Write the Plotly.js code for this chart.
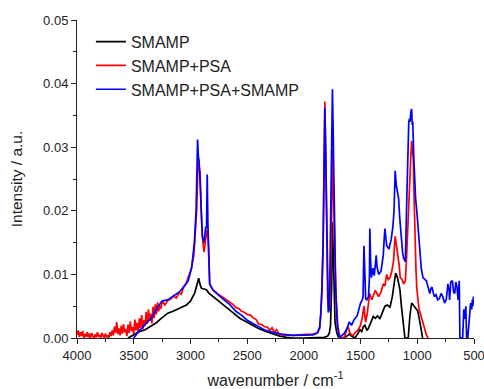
<!DOCTYPE html>
<html>
<head>
<meta charset="utf-8">
<script src="https://cdn.plot.ly/plotly-3.0.1.min.js"></script>
<style>html,body{margin:0;padding:0;background:#fff;}#chart{width:484px;height:389px;}</style>
</head>
<body>
<div id="chart"></div>
<script>
// SMAMP (black)
const smampX = [3550,3500,3450,3400,3350,3300,3270,3230,3200,3153,3100,3035,3000,2980,2962,2945,2927,2915,2903,2880,2859,2840,2800,2750,2682,2620,2565,2500,2447,2400,2330,2270,2212,2150,2100,2000,1900,1820,1790,1775,1765,1755,1748,1741,1735,1725,1712,1700,1683,1650,1620,1600,1580,1550,1520,1506,1490,1475,1462,1445,1432,1410,1388,1370,1350,1330,1310,1285,1265,1241,1220,1205,1191,1175,1153,1140,1124,1109,1095,1080,1065,1050,1035,1012,995,977,965,953];
const smampY = [0.0,0.0005,0.001,0.0013,0.0018,0.0024,0.0029,0.0035,0.0039,0.0042,0.0046,0.0052,0.0058,0.0064,0.0071,0.0082,0.0094,0.0084,0.0078,0.0077,0.0076,0.0071,0.0065,0.0057,0.0047,0.0039,0.0031,0.0025,0.0019,0.0015,0.001,0.0006,0.0003,0.0001,0.0,0.0,0.0,0.0001,0.0003,0.0008,0.002,0.008,0.0182,0.012,0.006,0.0025,0.001,0.0003,0.0,0.0,0.0003,0.0006,0.0003,0.0,0.0008,0.0013,0.001,0.0018,0.002,0.0012,0.0015,0.0026,0.0034,0.0031,0.0035,0.003,0.0038,0.005,0.0052,0.0048,0.0065,0.0085,0.0102,0.0095,0.0076,0.005,0.0026,0.0,0.0,0.0,0.0035,0.0055,0.0052,0.0045,0.0042,0.0025,0.001,0.0];

// SMAMP+PSA (red)
const psaX = [4000,3990,3980,3970,3960,3950,3940,3930,3920,3910,3900,3890,3880,3870,3860,3850,3840,3830,3820,3810,3800,3790,3780,3770,3760,3750,3740,3730,3720,3710,3700,3690,3680,3670,3660,3650,3640,3630,3620,3610,3600,3590,3580,3570,3560,3550,3540,3530,3520,3510,3500,3490,3480,3470,3460,3450,3440,3430,3420,3410,3400,3390,3380,3370,3360,3350,3340,3330,3320,3310,3300,3290,3280,3270,3260,3250,3225,3200,3175,3150,3125,3100,3080,3060,3040,3020,2990,2970,2955,2945,2937,2930,2922,2915,2905,2895,2880,2870,2862,2855,2845,2838,2830,2815,2800,2780,2750,2720,2700,2670,2650,2620,2600,2570,2550,2520,2500,2470,2450,2420,2400,2370,2350,2320,2300,2280,2260,2240,2220,2200,2150,2100,2050,2000,1950,1920,1880,1860,1850,1840,1830,1822,1815,1808,1800,1790,1780,1772,1765,1758,1748,1740,1735,1725,1715,1700,1690,1680,1660,1640,1620,1610,1595,1580,1565,1550,1525,1500,1485,1470,1462,1455,1440,1430,1420,1410,1400,1385,1370,1355,1340,1320,1300,1285,1270,1255,1240,1225,1210,1195,1185,1175,1160,1150,1135,1120,1105,1095,1088,1080,1072,1065,1057,1050,1042,1035,1028,1020,1012,1005,995,985,972,960,950,940,930,920,910,905];
const psaY = [0.0005,0.0012,0.0002,0.0009,0.0003,0.0011,0.0,0.0006,0.0002,0.0009,0.0001,0.0007,0.0,0.0008,0.0003,0.0,0.0006,0.0001,0.0009,0.0002,0.0005,0.0,0.0008,0.0002,0.0,0.0007,0.0001,0.0004,0.0,0.0009,0.0003,0.0012,0.0004,0.0018,0.0008,0.0025,0.0006,0.0015,0.0004,0.0019,0.0007,0.0022,0.0009,0.0014,0.0003,0.0021,0.0008,0.0026,0.0011,0.0017,0.0006,0.0029,0.0012,0.0024,0.0009,0.0031,0.0016,0.0036,0.0014,0.0028,0.0019,0.0041,0.0022,0.0045,0.0027,0.0038,0.0023,0.0049,0.0031,0.0053,0.0037,0.0056,0.0042,0.0051,0.0046,0.0058,0.0052,0.0059,0.0061,0.0066,0.0063,0.0071,0.0069,0.0081,0.0085,0.0095,0.011,0.013,0.0165,0.02,0.025,0.028,0.0268,0.026,0.02,0.016,0.0135,0.015,0.0165,0.017,0.016,0.012,0.0085,0.008,0.0075,0.0073,0.0068,0.0065,0.0062,0.0058,0.0056,0.0052,0.0048,0.0046,0.0042,0.004,0.0037,0.0036,0.0032,0.0029,0.0022,0.0021,0.0018,0.0017,0.0012,0.0016,0.0009,0.0013,0.0006,0.0005,0.0004,0.0004,0.0005,0.0005,0.0006,0.0006,0.0008,0.0015,0.004,0.008,0.015,0.028,0.0372,0.03,0.02,0.006,0.0045,0.005,0.009,0.015,0.0295,0.025,0.02,0.012,0.006,0.0018,0.0006,0.0,0.0,0.0002,0.0015,0.0018,0.0008,0.0005,0.0004,0.0008,0.0012,0.002,0.0032,0.005,0.0035,0.0025,0.004,0.0062,0.007,0.0065,0.006,0.0068,0.0075,0.007,0.0065,0.0072,0.0085,0.0082,0.01,0.0092,0.0095,0.0105,0.012,0.016,0.0148,0.014,0.0115,0.0095,0.0092,0.0085,0.009,0.0125,0.016,0.02,0.0235,0.025,0.0285,0.031,0.0295,0.028,0.022,0.015,0.011,0.008,0.006,0.0045,0.0038,0.003,0.0022,0.0015,0.0012,0.0005,0.0002,0.0];

// SMAMP+PSA+SMAMP (blue)
const blueX = [3500,3475,3450,3425,3400,3375,3350,3325,3300,3275,3250,3225,3200,3150,3100,3060,3020,2990,2965,2950,2943,2937,2930,2925,2918,2910,2895,2880,2870,2865,2858,2852,2846,2840,2830,2815,2800,2750,2700,2650,2600,2550,2500,2450,2400,2350,2300,2250,2200,2100,2000,1920,1880,1860,1850,1840,1830,1822,1815,1808,1800,1795,1785,1775,1765,1758,1748,1742,1735,1728,1720,1705,1690,1675,1660,1640,1620,1600,1580,1560,1530,1500,1485,1478,1470,1462,1455,1445,1430,1422,1418,1412,1405,1390,1380,1370,1362,1355,1348,1340,1320,1305,1300,1292,1285,1270,1250,1230,1215,1205,1195,1185,1180,1165,1155,1145,1130,1120,1105,1095,1088,1080,1075,1068,1063,1057,1050,1044,1040,1030,1015,1000,985,965,950,935,920,905,890,880,870,860,850,835,820,805,790,775,760,745,730,720,715,705,690,680,670,660,650,640,630,624,615,600,590,580,572,565,555,545,535,530,520,515,510,505];
const blueY = [0.0,0.0006,0.0012,0.0016,0.0022,0.0026,0.003,0.0038,0.0045,0.0052,0.0058,0.0059,0.006,0.0066,0.0072,0.008,0.009,0.011,0.015,0.02,0.025,0.0312,0.0285,0.028,0.026,0.023,0.016,0.015,0.0162,0.0175,0.0172,0.0257,0.018,0.012,0.0085,0.008,0.0075,0.0067,0.006,0.0052,0.0042,0.0036,0.0028,0.0023,0.0018,0.0013,0.001,0.0008,0.0006,0.0004,0.0004,0.0005,0.0008,0.0018,0.004,0.008,0.015,0.027,0.0362,0.03,0.02,0.01,0.004,0.0045,0.015,0.025,0.0391,0.033,0.025,0.015,0.008,0.002,0.0003,0.0002,0.0004,0.0008,0.0015,0.0025,0.002,0.0028,0.0035,0.0055,0.006,0.0065,0.0145,0.008,0.0062,0.006,0.0065,0.0095,0.0172,0.0125,0.0095,0.011,0.0098,0.0115,0.013,0.0112,0.0105,0.01,0.0105,0.012,0.013,0.0155,0.0172,0.0145,0.014,0.0155,0.0175,0.02,0.0263,0.024,0.0235,0.022,0.019,0.016,0.0135,0.0125,0.012,0.02,0.027,0.033,0.034,0.0345,0.034,0.0355,0.036,0.0335,0.034,0.028,0.022,0.019,0.016,0.011,0.0095,0.0092,0.009,0.008,0.007,0.0078,0.008,0.0072,0.0065,0.0068,0.006,0.0062,0.007,0.0065,0.0055,0.006,0.0085,0.0075,0.006,0.0088,0.009,0.0072,0.007,0.0088,0.008,0.006,0.009,0.0,0.0,0.0,0.0045,0.003,0.005,0.0,0.0,0.003,0.004,0.0055,0.0045,0.006,0.005,0.0065,0.0075];

const data = [
  {x: smampX, y: smampY, type: 'scatter', mode: 'lines', name: 'SMAMP', line: {color: '#000000', width: 1.7}},
  {x: psaX, y: psaY, type: 'scatter', mode: 'lines', name: 'SMAMP+PSA', line: {color: '#ff0000', width: 1.7}},
  {x: blueX, y: blueY, type: 'scatter', mode: 'lines', name: 'SMAMP+PSA+SMAMP', line: {color: '#0000ff', width: 1.7}}
];

const fam = 'Liberation Sans, Arial, sans-serif';
const axFont = {family: fam, size: 13, color: '#222'};
const layout = {
  width: 484, height: 389,
  margin: {l: 77, r: 10, t: 20, b: 51},
  paper_bgcolor: '#ffffff', plot_bgcolor: '#ffffff',
  showlegend: true,
  legend: {x: 0.035, y: 0.985, xanchor: 'left', yanchor: 'top', bgcolor: 'rgba(0,0,0,0)',
           font: {family: fam, size: 16, color: '#222'}, tracegroupgap: 0},
  xaxis: {
    range: [4000, 500], dtick: 500, tick0: 0,
    showgrid: false, zeroline: false, showline: true, linecolor: '#222', linewidth: 1,
    ticks: 'outside', ticklen: 5, tickcolor: '#222', tickfont: axFont,
    ticklabeloverflow: 'allow',
    minor: {dtick: 250, ticks: 'outside', ticklen: 3, tickcolor: '#222', showgrid: false},
    title: {text: 'wavenumber / cm<sup>-1</sup>', font: {family: fam, size: 16, color: '#222'}, standoff: 13}
  },
  yaxis: {
    range: [0, 0.05], dtick: 0.01, tickformat: '.2f',
    showgrid: false, zeroline: false, showline: true, linecolor: '#222', linewidth: 1,
    ticks: 'outside', ticklen: 5, tickcolor: '#222', tickfont: axFont,
    minor: {dtick: 0.005, ticks: 'outside', ticklen: 3, tickcolor: '#222', showgrid: false},
    title: {text: 'Intensity / a.u.', font: {family: fam, size: 15.5, color: '#222'}, standoff: 16}
  }
};

Plotly.newPlot('chart', data, layout, {displayModeBar: false, staticPlot: true});
</script>
</body>
</html>
